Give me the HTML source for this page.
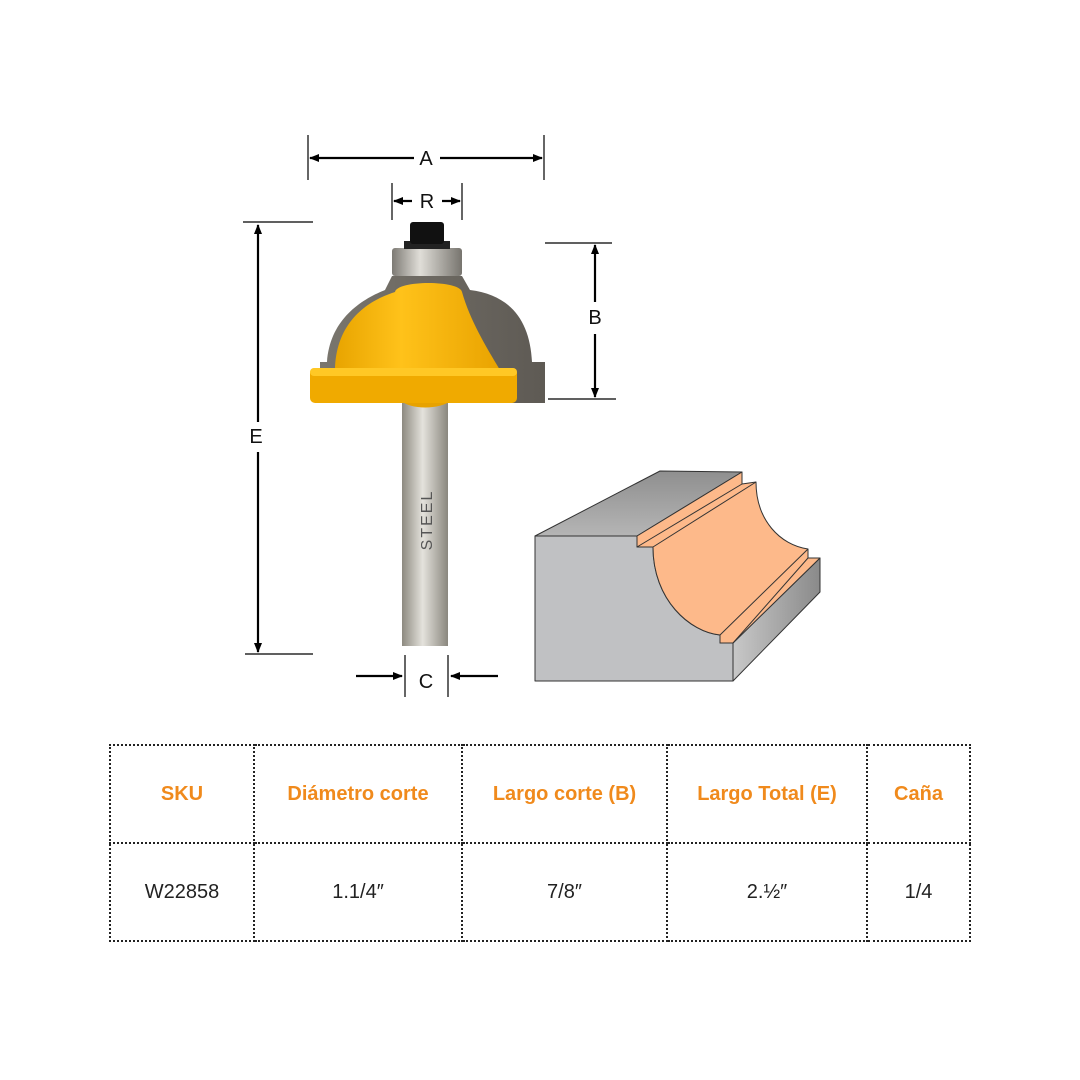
<!DOCTYPE html>
<html><head><meta charset="utf-8"><style>
html,body{margin:0;padding:0;background:#fff}
body{width:1080px;height:1080px;position:relative;overflow:hidden;font-family:"Liberation Sans",sans-serif}
svg{position:absolute;left:0;top:0}
table{position:absolute;left:109px;top:744px;border-collapse:collapse;width:860px;height:198px;table-layout:fixed}
td{border:2px dotted #222;text-align:center;vertical-align:middle;font-size:20px;color:#222;padding:0}
tr.h td{color:#f08a1c;font-weight:bold}
</style></head><body>
<svg width="1080" height="1080" viewBox="0 0 1080 1080">
<defs>
<marker id="ar" markerWidth="10" markerHeight="10" refX="9" refY="5" orient="auto" markerUnits="userSpaceOnUse"><path d="M0,1 L10,5 L0,9 Z" fill="#000"/></marker>
<linearGradient id="sh" x1="0" x2="1"><stop offset="0" stop-color="#8d8a80"/><stop offset=".45" stop-color="#e4e2dc"/><stop offset="1" stop-color="#8a877e"/></linearGradient>
<linearGradient id="ye" x1="0" x2="1"><stop offset="0" stop-color="#e8a400"/><stop offset=".4" stop-color="#ffc21a"/><stop offset="1" stop-color="#e9a300"/></linearGradient>
<linearGradient id="gr" x1="0" x2="1"><stop offset="0" stop-color="#7a766e"/><stop offset="1" stop-color="#5e5a54"/></linearGradient>
<linearGradient id="br" x1="0" x2="1"><stop offset="0" stop-color="#7d7a74"/><stop offset=".4" stop-color="#e0ded8"/><stop offset="1" stop-color="#77746e"/></linearGradient>
<linearGradient id="tp" x1="0" y1="0" x2="0" y2="1"><stop offset="0" stop-color="#8f8f8f"/><stop offset="1" stop-color="#b5b5b5"/></linearGradient>
<linearGradient id="sd" x1="0" x2="1"><stop offset="0" stop-color="#c8c8c8"/><stop offset="1" stop-color="#8a8a8a"/></linearGradient>
</defs>
<g stroke="#000" stroke-width="1.2">
<line x1="308" y1="135" x2="308" y2="180"/><line x1="544" y1="135" x2="544" y2="180"/>
<line x1="392" y1="183" x2="392" y2="220"/><line x1="462" y1="183" x2="462" y2="220"/>
<line x1="243" y1="222" x2="313" y2="222"/><line x1="245" y1="654" x2="313" y2="654"/>
<line x1="545" y1="243" x2="612" y2="243"/><line x1="548" y1="399" x2="616" y2="399"/>
<line x1="405" y1="655" x2="405" y2="697"/><line x1="448" y1="655" x2="448" y2="697"/>
</g>
<g stroke="#000" stroke-width="2.2" fill="none">
<line x1="414" y1="158" x2="310" y2="158" marker-end="url(#ar)"/><line x1="440" y1="158" x2="542" y2="158" marker-end="url(#ar)"/>
<line x1="412" y1="201" x2="394" y2="201" marker-end="url(#ar)"/><line x1="442" y1="201" x2="460" y2="201" marker-end="url(#ar)"/>
<line x1="258" y1="422" x2="258" y2="225" marker-end="url(#ar)"/><line x1="258" y1="452" x2="258" y2="652" marker-end="url(#ar)"/>
<line x1="595" y1="302" x2="595" y2="245" marker-end="url(#ar)"/><line x1="595" y1="334" x2="595" y2="397" marker-end="url(#ar)"/>
<line x1="356" y1="676" x2="402" y2="676" marker-end="url(#ar)"/><line x1="498" y1="676" x2="451" y2="676" marker-end="url(#ar)"/>
</g>
<g font-family="Liberation Sans" font-size="20" text-anchor="middle" fill="#111">
<text x="426" y="165">A</text><text x="427" y="208">R</text><text x="256" y="443">E</text><text x="595" y="324">B</text><text x="426" y="688">C</text>
</g>
<path d="M320,403 L320,362 L327,362 C330,320 360,300 385,290 L392,276 L462,276 L470,290 C510,295 530,320 532,362 L545,362 L545,403 Z" fill="url(#gr)"/>
<rect x="402" y="400" width="46" height="246" fill="url(#sh)"/>
<text transform="translate(432,520) rotate(-90)" font-size="16" fill="#555" text-anchor="middle" font-family="Liberation Sans" letter-spacing="2">STEEL</text>
<path d="M400,400 C410,410 440,410 452,400 Z" fill="#e7a200"/>
<path d="M335,370 C336,320 370,300 395,292 C397,280 460,280 462,292 C470,320 485,345 500,370 Z" fill="url(#ye)"/>
<rect x="310" y="368" width="207" height="35" rx="5" fill="#f0aa00"/>
<rect x="310" y="368" width="207" height="8" rx="4" fill="#ffc825"/>
<rect x="392" y="248" width="70" height="28" rx="3" fill="url(#br)"/>
<rect x="404" y="241" width="46" height="8" fill="#222"/>
<rect x="410" y="222" width="34" height="22" rx="3" fill="#111"/>
<g stroke="#333" stroke-width="1" stroke-linejoin="round">
<path d="M535,536 L660,471 L742,472 L637,536 Z" fill="url(#tp)"/>
<path d="M535,536 L637,536 L637,547 L653,547 C653,600 690,632 720,635 L720,643 L733,643 L733,681 L535,681 Z" fill="#c0c1c3"/>
<path d="M733,643 L820,558 L820,592 L733,681 Z" fill="url(#sd)"/>
<path d="M637,536 L742,472 L742,484 L756,482 C756,520 780,545 808,549 L808,558 L820,558 L733,643 L720,643 L720,635 C690,632 653,600 653,547 L637,547 Z" fill="#fdb98a"/>
<line x1="637" y1="547" x2="742" y2="484"/><line x1="653" y1="547" x2="756" y2="482"/>
<line x1="720" y1="635" x2="808" y2="549"/><line x1="733" y1="643" x2="808" y2="558"/>
</g>
</svg>
<table>
<colgroup><col style="width:144px"><col style="width:208px"><col style="width:205px"><col style="width:200px"><col style="width:103px"></colgroup>
<tr class="h"><td>SKU</td><td>Diámetro corte</td><td>Largo corte (B)</td><td>Largo Total (E)</td><td>Caña</td></tr>
<tr><td>W22858</td><td>1.1/4″</td><td>7/8″</td><td>2.½″</td><td>1/4</td></tr>
</table>
</body></html>
